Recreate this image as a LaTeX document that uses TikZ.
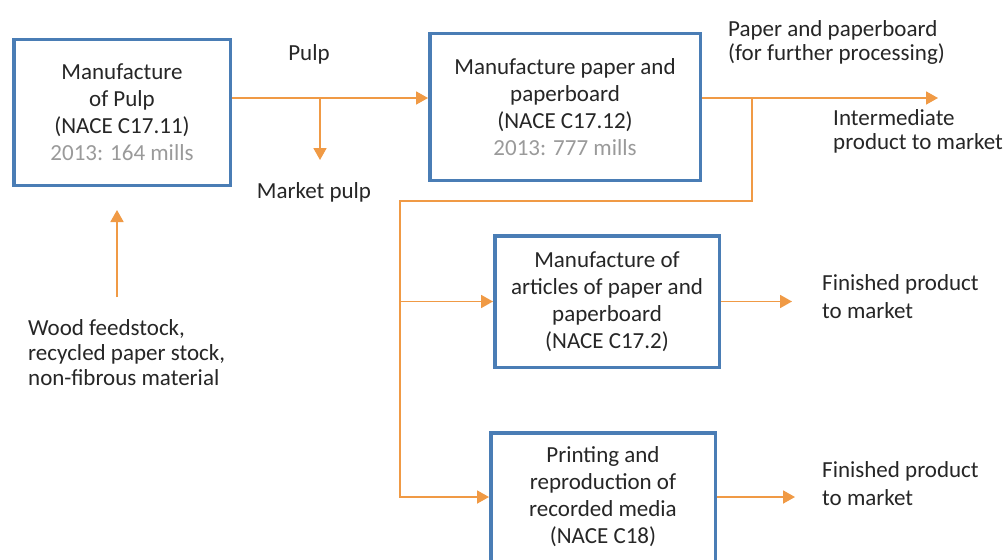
\documentclass[tikz,border=0pt]{standalone}
\usepackage{fontspec}
\setmainfont{Carlito}
\usetikzlibrary{arrows.meta}
\definecolor{boxblue}{HTML}{4A7DB5}
\definecolor{flow}{HTML}{F09A45}
\definecolor{ink}{HTML}{262626}
\definecolor{note}{HTML}{9A9A9A}

\begin{document}
\begin{tikzpicture}[x=1pt,y=-1pt,
  stage/.style={draw=boxblue, line width=3.5pt, fill=white, align=center,
    inner sep=0pt, text=ink, font=\fontsize{23}{27}\selectfont},
  lbl/.style={align=left, inner sep=0pt, text=ink, font=\fontsize{23}{24}\selectfont},
  flowline/.style={draw=flow, line width=1.8pt},
  flowarrow/.style={flowline, -{Triangle[length=12pt,width=13pt]}}]

\useasboundingbox (0,0) rectangle (1008,559);
\fill[white] (0,0) rectangle (1008,559);
\clip (0,0) rectangle (1008,559);

% process stages
\node[stage, minimum width=216.5pt, minimum height=145.5pt] (b1) at (122,112.5)
  {Manufacture\\of Pulp\\(NACE C17.11)\\\textcolor{note}{2013: 164 mills}};
\node[stage, minimum width=270.5pt, minimum height=146.5pt] (b2) at (565,107)
  {Manufacture paper and\\paperboard\\(NACE C17.12)\\\textcolor{note}{2013: 777 mills}};
\node[stage, minimum width=224.5pt, minimum height=131.5pt] (b3) at (607,301.5)
  {Manufacture of\\articles of paper and\\paperboard\\(NACE C17.2)};
\node[stage, minimum width=224.5pt, minimum height=128.5pt] (b4) at (603,497)
  {Printing and\\reproduction of\\recorded media\\(NACE C18)};

% flow labels
\node[lbl] (pulp) at (309,54) {Pulp};
\node[lbl] (mkt) at (314,192) {Market pulp};
\node[lbl, anchor=west] (ppb) at (728,42) {Paper and paperboard\\(for further processing)};
\node[lbl, anchor=west] (inter) at (833,131) {Intermediate\\product to market};
\node[lbl, anchor=west, font=\fontsize{23}{28}\selectfont] (fin1) at (822,297)
  {Finished product\\to market};
\node[lbl, anchor=west, font=\fontsize{23}{28}\selectfont] (fin2) at (822,484)
  {Finished product\\to market};
\node[lbl, anchor=west, font=\fontsize{23}{25}\selectfont] (wood) at (28,353)
  {Wood feedstock,\\recycled paper stock,\\non-fibrous material};

% junctions and free arrow ends
\coordinate (split) at (320,98);
\coordinate (mktTip) at (320,160);
\coordinate (outY) at (0,98);
\coordinate (interTip) at (938,98);
\coordinate (drop) at (752,98);
\coordinate (busTop) at (400,201);
\coordinate (fin1Tip) at (792,301.5);
\coordinate (fin2Tip) at (795,497);
\coordinate (woodFoot) at (117,297);
\coordinate (woodTip) at (117,210);

% material flows
\draw[flowarrow] (b1.east |- split) -- (b2.west |- split);
\draw[flowarrow] (split) -- (mktTip);
\draw[flowarrow] (b2.east |- outY) -- (interTip);
\draw[flowarrow] (drop) -- (drop |- busTop) -- (busTop) -- (busTop |- b4.west) -- (b4.west);
\draw[flowarrow] (busTop |- b3.west) -- (b3.west);
\draw[flowarrow] (b3.east) -- (fin1Tip);
\draw[flowarrow] (b4.east) -- (fin2Tip);
\draw[flowarrow] (woodFoot) -- (woodTip);
\end{tikzpicture}
\end{document}
